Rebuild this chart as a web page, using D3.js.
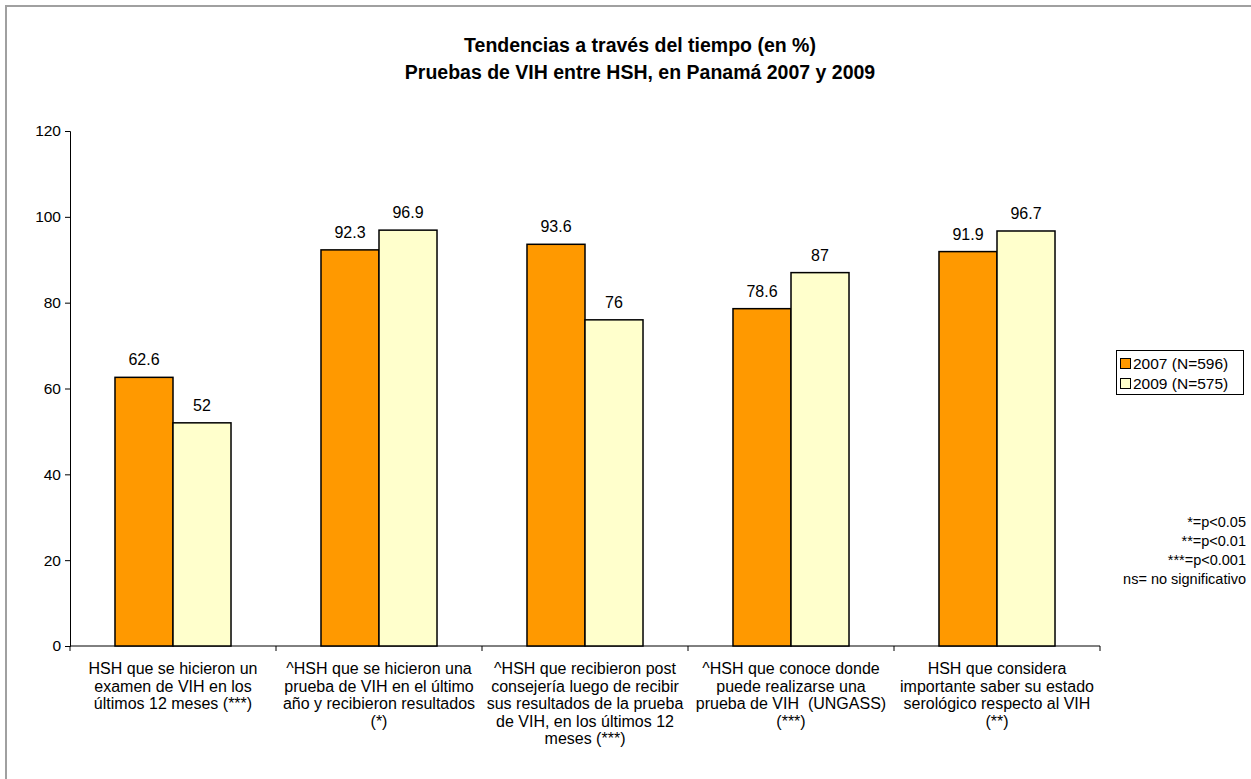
<!DOCTYPE html>
<html><head><meta charset="utf-8">
<script src="https://cdn.jsdelivr.net/npm/d3@7"></script>
<style>body{margin:0;background:#fff;} text{font-family:"Liberation Sans",Arial,sans-serif;}</style>
</head><body>
<svg id="c" width="1251" height="779"></svg>
<script>
const categories = [
  ["HSH que se hicieron un","examen de VIH en los","últimos 12 meses (***)"],
  ["^HSH que se hicieron una","prueba de VIH en el último","año y recibieron resultados","(*)"],
  ["^HSH que recibieron post","consejería luego de recibir","sus resultados de la prueba","de VIH, en los últimos 12","meses (***)"],
  ["^HSH que conoce donde","puede realizarse una","prueba de VIH  (UNGASS)","(***)"],
  ["HSH que considera","importante saber su estado","serológico respecto al VIH","(**)"]
];
const seriesNames = ["2007 (N=596)","2009 (N=575)"];
const values2007 = [62.6, 92.3, 93.6, 78.6, 91.9];
const values2009 = [52, 96.9, 76, 87, 96.7];
const yTicks = [0,20,40,60,80,100,120];
const titleLines = ["Tendencias a través del tiempo (en %)","Pruebas de VIH entre HSH, en Panamá 2007 y 2009"];
const notes = ["*=p<0.05","**=p<0.01","***=p<0.001","ns= no significativo"];

const colors = ["#FF9900","#FFFFCC"];
const svg = d3.select("#c");
svg.append("rect").attr("x",6).attr("y",6).attr("width",1260).attr("height",790)
  .attr("fill","#fff").attr("stroke","#a0a0a0").attr("stroke-width",2);

const L=70, R=1100, T=131, B=646;
const x = d3.scaleBand().domain(d3.range(categories.length)).range([L,R]).paddingInner(0).paddingOuter(0);
const inner = d3.scaleBand().domain([0,1]).range([x.bandwidth()*0.2184, x.bandwidth()*(1-0.2184)]);
const y = d3.scaleLinear().domain([0,120]).range([B,T]);

// title
svg.append("g").selectAll("text").data(titleLines).join("text")
  .attr("x",640).attr("y",(d,i)=>52+i*27).attr("text-anchor","middle")
  .attr("font-weight","bold").attr("font-size",19.5).text(d=>d);

// y axis
const ya = svg.append("g").attr("transform",`translate(${L},0)`)
  .call(d3.axisLeft(y).tickValues(yTicks).tickSize(5).tickPadding(4));
ya.select(".domain").attr("stroke","#000");
ya.selectAll("text").attr("font-size",15.5).attr("fill","#000").style("font-family","Liberation Sans, Arial, sans-serif");

// x axis
const xa = svg.append("g").attr("transform",`translate(0,${B})`);
xa.append("line").attr("x1",L).attr("x2",R).attr("stroke","#000");
xa.selectAll("line.tk").data(d3.range(categories.length+1)).join("line").attr("class","tk")
  .attr("x1",i=>L+i*x.step()).attr("x2",i=>L+i*x.step()).attr("y1",0).attr("y2",5).attr("stroke","#000");

const series = [values2007, values2009];
series.forEach((vals,s)=>{
  const g = svg.append("g");
  g.selectAll("rect").data(vals).join("rect")
    .attr("x",(d,i)=>x(i)+inner(s)).attr("width",inner.bandwidth())
    .attr("y",d=>y(d)).attr("height",d=>B-y(d))
    .attr("fill",colors[s]).attr("stroke","#000").attr("stroke-width",1.5);
  g.selectAll("text").data(vals).join("text")
    .attr("x",(d,i)=>x(i)+inner(s)+inner.bandwidth()/2).attr("y",d=>y(d)-12)
    .attr("text-anchor","middle").attr("font-size",16).text(d=>d);
});

// category labels
categories.forEach((lines,i)=>{
  svg.append("g").selectAll("text").data(lines).join("text")
    .attr("x",x(i)+x.bandwidth()/2).attr("y",(d,j)=>674+j*17.5)
    .attr("text-anchor","middle").attr("font-size",16).style("white-space","pre").text(d=>d);
});

// legend
const lg = svg.append("g");
lg.append("rect").attr("x",1116.5).attr("y",350.5).attr("width",127).attr("height",44)
  .attr("fill","#fff").attr("stroke","#000");
seriesNames.forEach((n,i)=>{
  lg.append("rect").attr("x",1120.5).attr("y",358.5+i*20).attr("width",10).attr("height",10)
    .attr("fill",colors[i]).attr("stroke","#000");
  lg.append("text").attr("x",1133).attr("y",369+i*20).attr("font-size",15.5).text(n);
});

// notes
svg.append("g").selectAll("text").data(notes).join("text")
  .attr("x",1246).attr("y",(d,i)=>527+i*19).attr("text-anchor","end").attr("font-size",14.5).text(d=>d);
</script>
</body></html>
